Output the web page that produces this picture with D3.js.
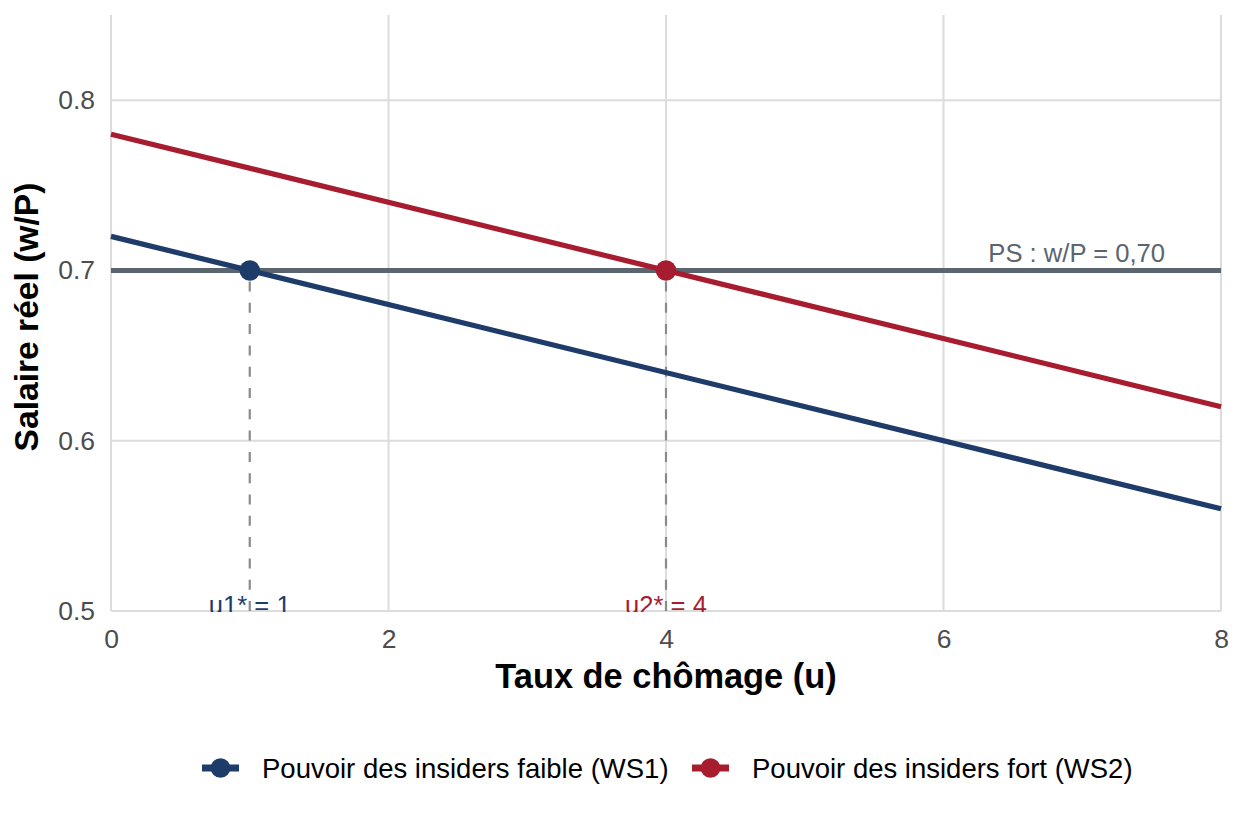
<!DOCTYPE html>
<html>
<head>
<meta charset="utf-8">
<script src="https://cdn.jsdelivr.net/npm/d3@7"></script>
<style>
  body { margin: 0; background: #fff; }
  svg { font-family: "Liberation Sans", Arial, sans-serif; }
</style>
</head>
<body>
<svg id="chart" width="1248" height="825"></svg>
<script>
// Data
const U_VALUES = [0, 8];
const WS1 = [0.72, 0.56];
const WS2 = [0.78, 0.62];
const PS_LEVEL = 0.70;
const EQUILIBRIA = [
  { key: 'ws1', u: 1, w: 0.70, label: 'u1* = 1' },
  { key: 'ws2', u: 4, w: 0.70, label: 'u2* = 4' },
];
const PS_LABEL = { u: 6.96, w: 0.705, text: 'PS : w/P = 0,70' };
const X_TICKS = [0, 2, 4, 6, 8];
const Y_TICKS = [0.5, 0.6, 0.7, 0.8];
const LEGEND = [
  { key: 'ws1', label: 'Pouvoir des insiders faible (WS1)' },
  { key: 'ws2', label: 'Pouvoir des insiders fort (WS2)' },
];

const COLORS = { ws1: '#1d3c69', ws2: '#a71d2f', ps: '#5b6570' };

const svg = d3.select('#chart');
const margin = { left: 111, right: 27, top: 15, bottom: 214 };
const W = 1248, H = 825;

const x = d3.scaleLinear().domain([0, 8]).range([margin.left, W - margin.right]);
const y = d3.scaleLinear().domain([0.5, 0.85]).range([H - margin.bottom, margin.top]);

svg.append('defs').append('clipPath').attr('id', 'panel')
  .append('rect').attr('x', x(0) - 2).attr('y', y(0.85))
  .attr('width', x(8) - x(0) + 4).attr('height', y(0.5) - y(0.85) + 1);

// Grid
const grid = svg.append('g');
grid.selectAll('line.v').data(X_TICKS).enter().append('line')
  .attr('x1', d => x(d)).attr('x2', d => x(d))
  .attr('y1', y(0.5)).attr('y2', y(0.85))
  .attr('stroke', '#dcdcdc').attr('stroke-width', 2);
grid.selectAll('line.h').data(Y_TICKS).enter().append('line')
  .attr('x1', x(0)).attr('x2', x(8))
  .attr('y1', d => y(d)).attr('y2', d => y(d))
  .attr('stroke', '#dcdcdc').attr('stroke-width', 2);

// Axes (labels only)
const xAxis = svg.append('g').attr('transform', `translate(0,${y(0.5)})`)
  .call(d3.axisBottom(x).tickValues(X_TICKS).tickSize(0).tickPadding(18).tickFormat(d3.format('d')));
const yAxis = svg.append('g').attr('transform', `translate(${x(0)},0)`)
  .call(d3.axisLeft(y).tickValues(Y_TICKS).tickSize(0).tickPadding(16).tickFormat(d3.format('.1f')));
[xAxis, yAxis].forEach(a => {
  a.select('.domain').remove();
  a.selectAll('text').attr('font-size', 26.5).attr('fill', '#4d4d4d')
    .attr('font-family', '"Liberation Sans", Arial, sans-serif');
});

const panel = svg.append('g').attr('clip-path', 'url(#panel)');

// Equilibrium labels (clipped at panel bottom)
panel.selectAll('text.eq').data(EQUILIBRIA).enter().append('text')
  .attr('x', d => x(d.u)).attr('y', y(0.5) + 3)
  .attr('text-anchor', 'middle').attr('font-size', 25.6)
  .attr('fill', d => COLORS[d.key])
  .text(d => d.label);

// Dashed verticals
panel.selectAll('line.drop').data(EQUILIBRIA).enter().append('line')
  .attr('x1', d => x(d.u)).attr('x2', d => x(d.u))
  .attr('y1', y(0.5)).attr('y2', d => y(d.w))
  .attr('stroke', '#8a8a8a').attr('stroke-width', 2.2).attr('stroke-dasharray', '10 11.3');

// PS line
panel.append('line')
  .attr('x1', x(0)).attr('x2', x(8))
  .attr('y1', y(PS_LEVEL)).attr('y2', y(PS_LEVEL))
  .attr('stroke', COLORS.ps).attr('stroke-width', 5);

// WS lines
const line = d3.line().x(d => x(d[0])).y(d => y(d[1]));
[['ws1', WS1], ['ws2', WS2]].forEach(([k, vals]) => {
  panel.append('path')
    .datum(U_VALUES.map((u, i) => [u, vals[i]]))
    .attr('d', line).attr('fill', 'none')
    .attr('stroke', COLORS[k]).attr('stroke-width', 5.2);
});

// Points
panel.selectAll('circle.eq').data(EQUILIBRIA).enter().append('circle')
  .attr('cx', d => x(d.u)).attr('cy', d => y(d.w)).attr('r', 10.3)
  .attr('fill', d => COLORS[d.key]);

svg.append('text')
  .attr('x', x(PS_LABEL.u)).attr('y', y(PS_LABEL.w) + 0)
  .attr('text-anchor', 'middle').attr('font-size', 25.6)
  .attr('fill', COLORS.ps)
  .text(PS_LABEL.text);

// Axis titles
svg.append('text')
  .attr('x', (x(0) + x(8)) / 2).attr('y', 688)
  .attr('text-anchor', 'middle').attr('font-size', 34.4).attr('font-weight', 'bold')
  .attr('fill', '#000')
  .text('Taux de chômage (u)');
svg.append('text')
  .attr('transform', `translate(38,317) rotate(-90)`)
  .attr('text-anchor', 'middle').attr('font-size', 33.6).attr('font-weight', 'bold')
  .attr('fill', '#000')
  .text('Salaire réel (w/P)');

// Legend
const legX = [202, 692];
const leg = svg.append('g');
LEGEND.forEach((d, i) => {
  const g = leg.append('g').attr('transform', `translate(${legX[i]},768)`);
  g.append('line').attr('x1', 0).attr('x2', 37).attr('stroke', COLORS[d.key]).attr('stroke-width', 7);
  g.append('circle').attr('cx', 18.5).attr('r', 9.8).attr('fill', COLORS[d.key]);
  g.append('text').attr('x', 60).attr('y', 10).attr('font-size', 27.5).attr('fill', '#000').text(d.label);
});
</script>
</body>
</html>
